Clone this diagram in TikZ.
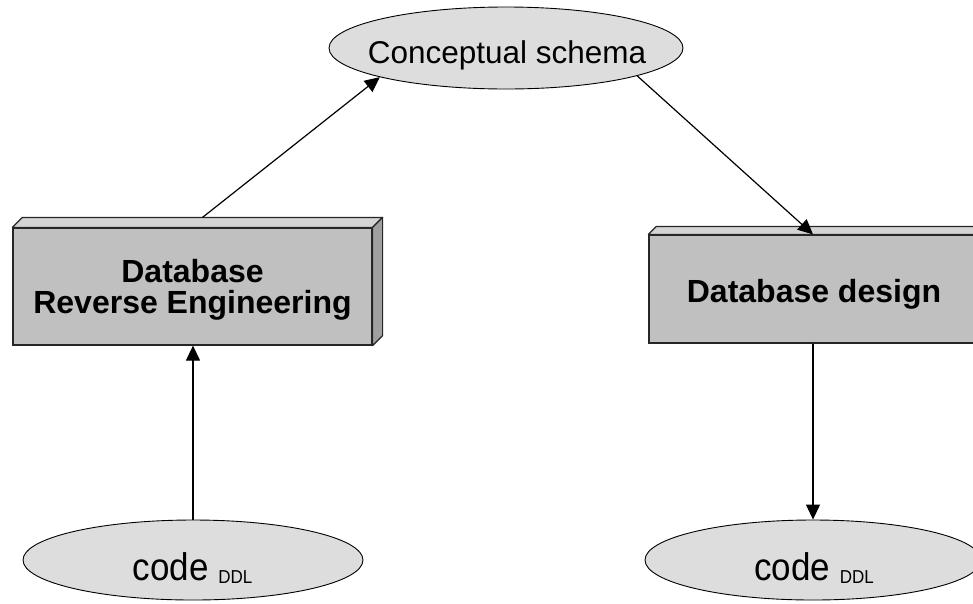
\documentclass[tikz,border=0pt]{standalone}
\usepackage{fontspec}
\setmainfont{Liberation Sans}
\usetikzlibrary{shapes.geometric,arrows.meta}
\definecolor{facegray}{RGB}{192,192,192}
\definecolor{topgray}{RGB}{212,212,212}
\definecolor{sidegray}{RGB}{160,160,160}
\definecolor{ellgray}{RGB}{221,221,221}
% lowered small "DDL" tag after "code"
\newcommand{\ddlsub}{\raisebox{-3pt}{\fontsize{17}{17}\selectfont DDL}}
% slightly taller lettering for the code ovals
\newcommand{\codeword}{\scalebox{1}[1.1]{code \ddlsub}}
\begin{document}
\begin{tikzpicture}[x=1pt,y=-1pt,
  oval/.style={ellipse, draw=black, line width=0.9pt, fill=ellgray, inner sep=0pt},
  blockface/.style={rectangle, draw=black!85, line width=1.2pt, fill=facegray, inner sep=0pt},
  blocktop/.style={draw=black!85, line width=1.2pt, fill=topgray, line join=round},
  blockside/.style={draw=black!85, line width=1.2pt, fill=sidegray, line join=round},
  txt/.style={anchor=base, inner sep=0pt, font=\fontsize{31.5}{36}\selectfont},
  boldtxt/.style={anchor=base, inner sep=0pt, font=\fontsize{32}{36}\selectfont\bfseries},
  codetxt/.style={anchor=base, inner sep=0pt, font=\fontsize{35}{40}\selectfont},
  flow/.style={-{Triangle[length=15pt,width=14pt]}, line width=1.2pt}
]
\clip (0,0) rectangle (973,603);

% conceptual schema
\node[oval, minimum width=354pt, minimum height=82pt] (cs) at (506,48) {};
\node[txt] (cstext) at (507,63) {Conceptual schema};

% reverse engineering block (front face + top and side faces)
\node[blockface, minimum width=359pt, minimum height=117pt] (dre) at (192.5,286.5) {};
\draw[blocktop] (dre.north west) -- ++(10,-10) -- ([shift={(10,-10)}]dre.north east) -- (dre.north east) -- cycle;
\draw[blockside] (dre.north east) -- ++(10,-10) -- ([shift={(10,-10)}]dre.south east) -- (dre.south east) -- cycle;
\node[boldtxt] (dreA) at (192.5,282) {Database};
\node[boldtxt] (dreB) at (192.5,313) {Reverse Engineering};

% design block
\node[blockface, minimum width=328pt, minimum height=108pt] (dd) at (813,289) {};
\draw[blocktop] (dd.north west) -- ++(8,-8) -- ([shift={(8,-8)}]dd.north east) -- (dd.north east) -- cycle;
\draw[blockside] (dd.north east) -- ++(8,-8) -- ([shift={(8,-8)}]dd.south east) -- (dd.south east) -- cycle;
\node[boldtxt] (ddtext) at (814,302) {Database design};

% DDL code ovals
\node[oval, minimum width=340pt, minimum height=80pt] (c1) at (193,560) {};
\node[codetxt] (c1text) at (192.5,580) {\codeword};
\node[oval, minimum width=336pt, minimum height=80pt] (c2) at (813,560) {};
\node[codetxt] (c2text) at (814,580) {\codeword};

% flows
\coordinate (dretop) at ([shift={(10,-10)}]dre.north);
\draw[flow] (dretop) -- (cs.193);
\draw[flow] (c1.north) -- (c1.north |- dre.south);
\draw[flow] (cs.348) -- (dd.north);
\draw[flow] (dd.south) -- (dd.south |- c2.north);
\end{tikzpicture}
\end{document}
